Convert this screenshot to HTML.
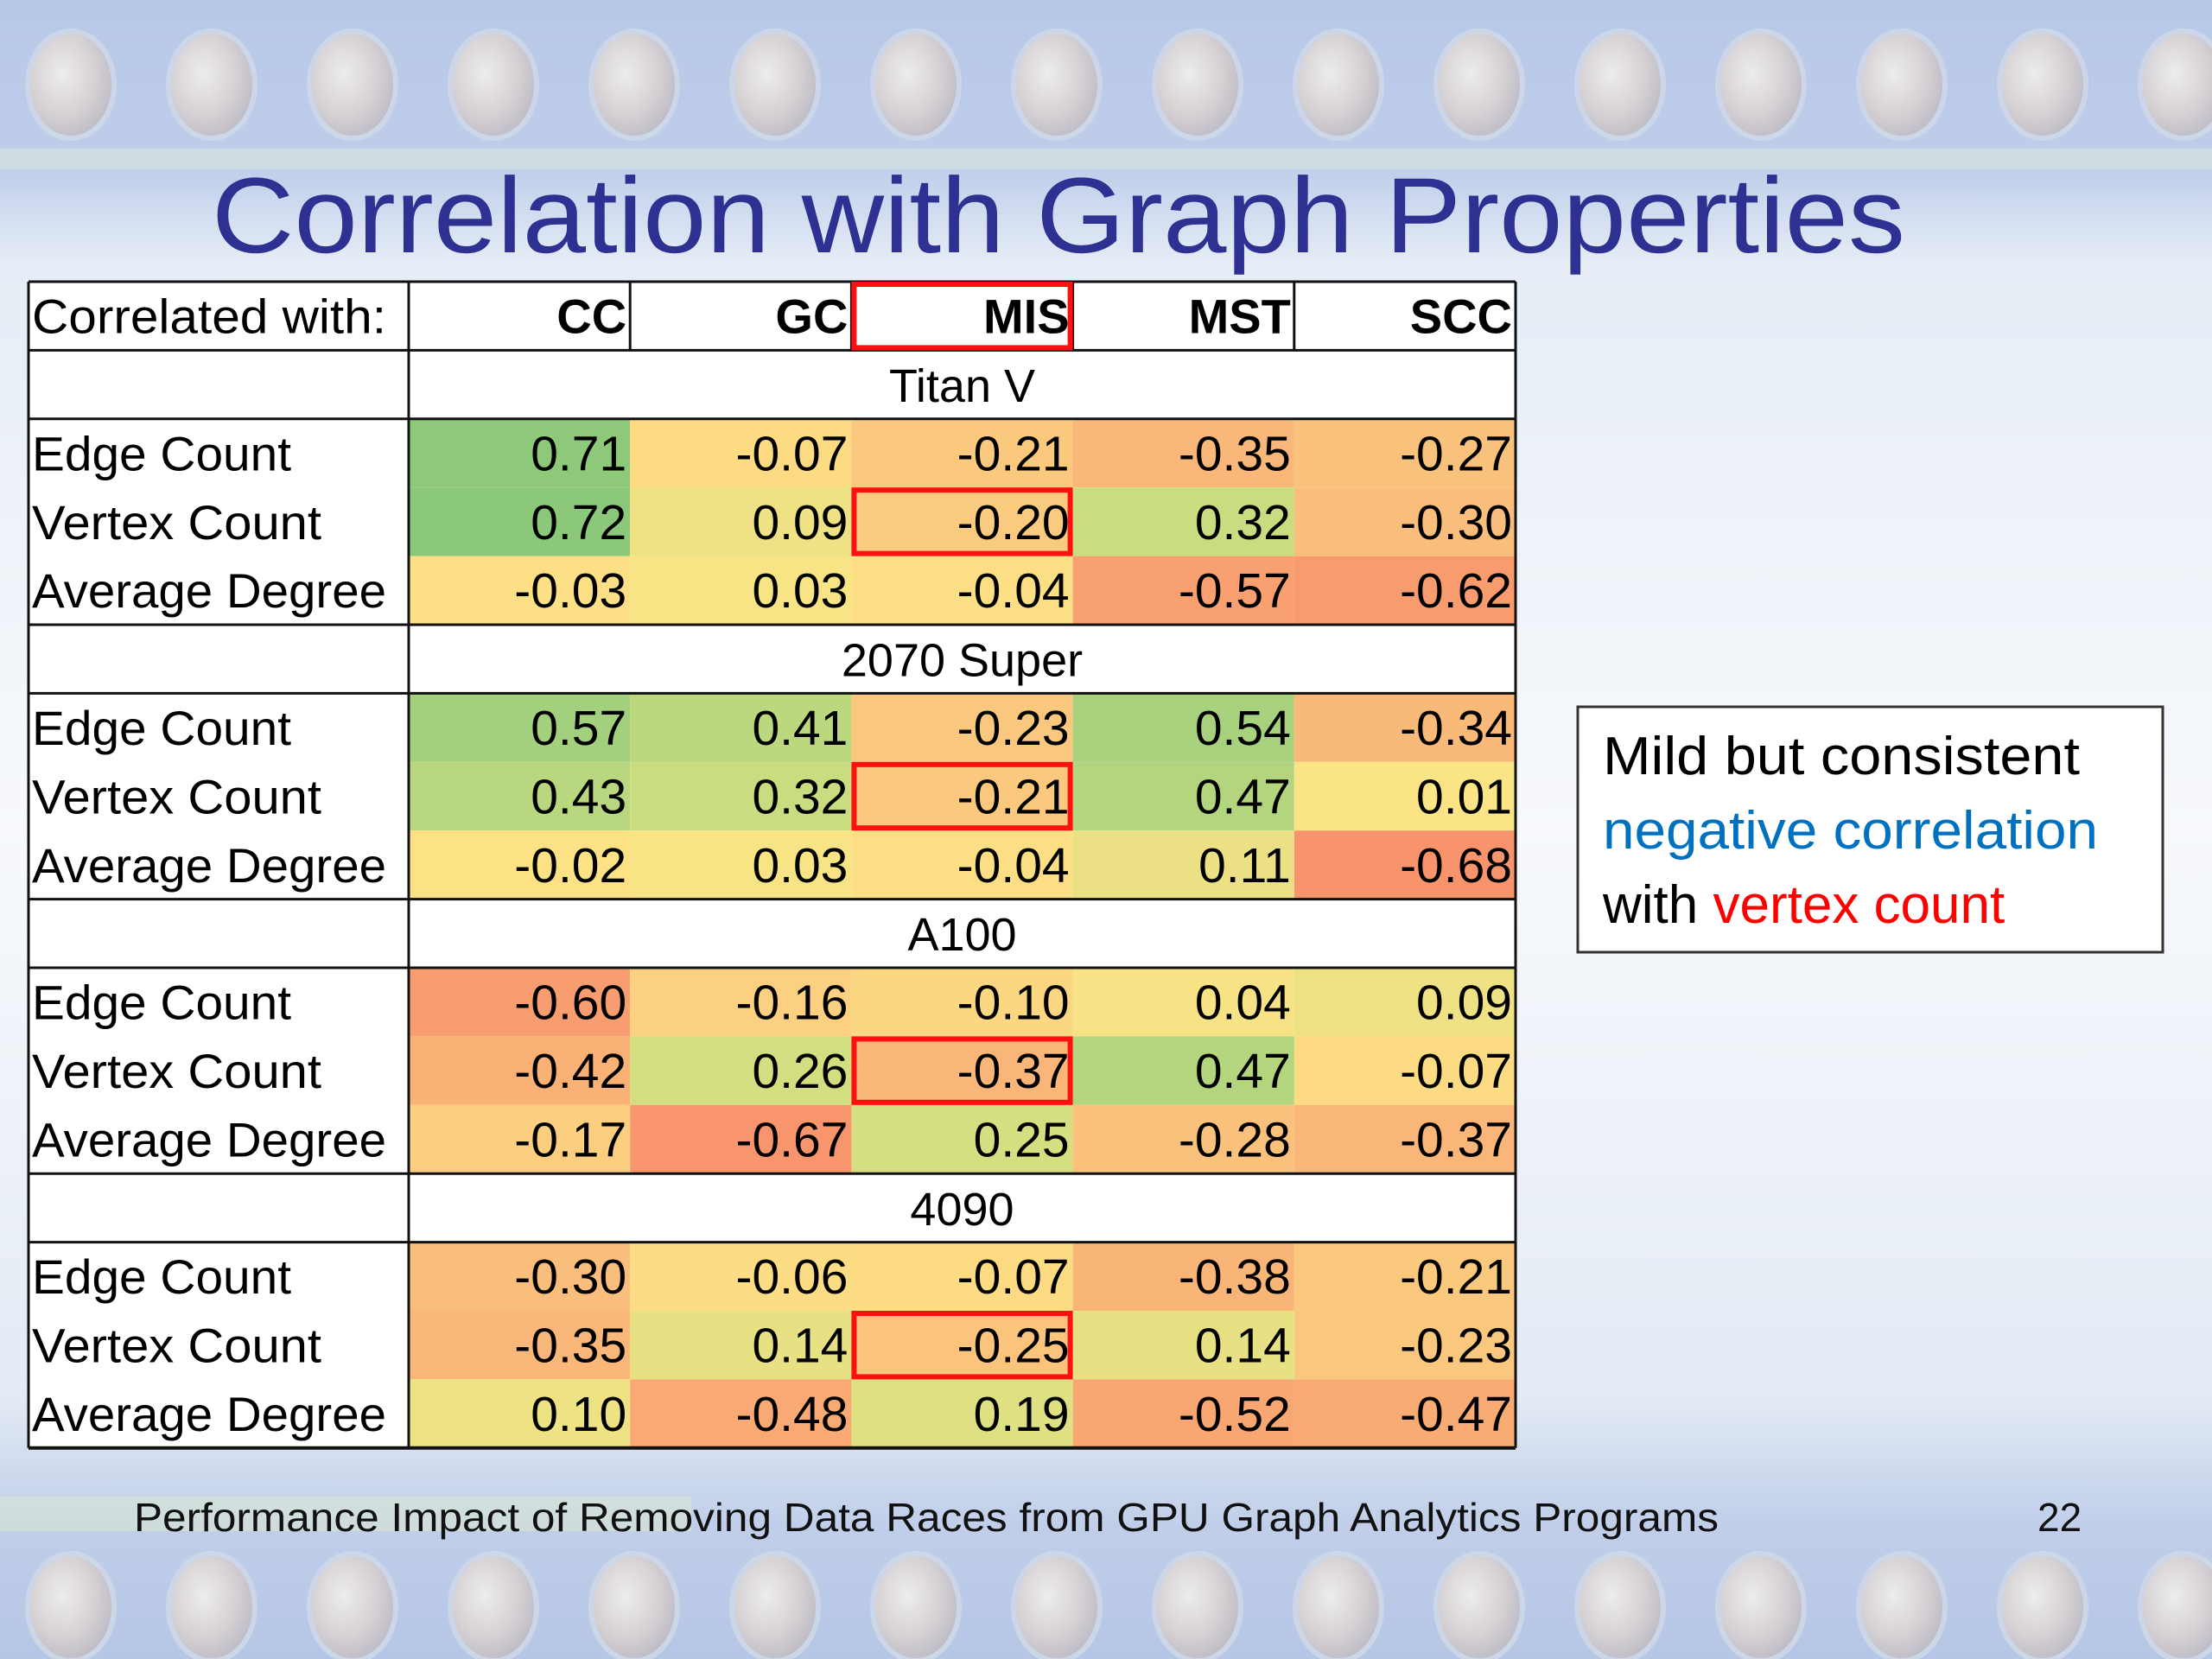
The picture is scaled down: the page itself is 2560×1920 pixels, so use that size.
<!DOCTYPE html>
<html><head><meta charset="utf-8"><style>
html,body{margin:0;padding:0;width:2560px;height:1920px;overflow:hidden;background:#eef3fa}
svg{display:block}
</style></head><body>
<svg id="s" width="2560" height="1920" viewBox="0 0 2560 1920" xmlns="http://www.w3.org/2000/svg">
<defs>
<linearGradient id="bg" x1="0" y1="0" x2="0" y2="1">
<stop offset="0" stop-color="#b8c8e8"/><stop offset="0.1" stop-color="#bfcdea"/><stop offset="0.16" stop-color="#e6edf6"/><stop offset="0.5" stop-color="#f7f9fc"/><stop offset="0.84" stop-color="#e4ebf5"/><stop offset="0.92" stop-color="#c0cee9"/><stop offset="1" stop-color="#b6c6e6"/>
</linearGradient>
<radialGradient id="pad" cx="0.4" cy="0.4" r="0.6">
<stop offset="0" stop-color="#f6f2f0"/><stop offset="0.6" stop-color="#ddd5d2"/><stop offset="1" stop-color="#c2bcc2"/>
</radialGradient>
</defs>
<rect width="2560" height="1920" fill="url(#bg)"/>
<rect x="0" y="172" width="2560" height="24" fill="#dfecd9" opacity="0.5"/>
<rect x="0" y="1732" width="800" height="40" fill="#dcebd0" opacity="0.5"/>
<g id="pads" opacity="0.85"></g>
<text x="245" y="292" font-family="Liberation Sans, sans-serif" font-size="124" fill="#2e3192" textLength="1960" lengthAdjust="spacingAndGlyphs">Correlation with Graph Properties</text>
<g id="tbl"></g>
<g>
<rect x="1826" y="818" width="677" height="284" fill="#fff" stroke="#333" stroke-width="3"/>
<text x="1855" y="896" font-family="Liberation Sans, sans-serif" font-size="62" fill="#000" textLength="552" lengthAdjust="spacingAndGlyphs">Mild but consistent</text>
<text x="1855" y="982" font-family="Liberation Sans, sans-serif" font-size="62" fill="#0070c0" textLength="573" lengthAdjust="spacingAndGlyphs">negative correlation</text>
<text x="1855" y="1068" font-family="Liberation Sans, sans-serif" font-size="62" fill="#000"><tspan>with </tspan><tspan fill="#ff0000">vertex count</tspan></text>
</g>
<text x="155" y="1772" font-family="Liberation Sans, sans-serif" font-size="46" fill="#111" textLength="1834" lengthAdjust="spacingAndGlyphs">Performance Impact of Removing Data Races from GPU Graph Analytics Programs</text>
<text x="2358" y="1772" font-family="Liberation Sans, sans-serif" font-size="46" fill="#111">22</text>
</svg>
<script>
const columns = ["CC","GC","MIS","MST","SCC"];
const gpus = ["Titan V","2070 Super","A100","4090"];
const properties = ["Edge Count","Vertex Count","Average Degree"];
const titanV = [[0.71,-0.07,-0.21,-0.35,-0.27],[0.72,0.09,-0.20,0.32,-0.30],[-0.03,0.03,-0.04,-0.57,-0.62]];
const super2070 = [[0.57,0.41,-0.23,0.54,-0.34],[0.43,0.32,-0.21,0.47,0.01],[-0.02,0.03,-0.04,0.11,-0.68]];
const a100 = [[-0.60,-0.16,-0.10,0.04,0.09],[-0.42,0.26,-0.37,0.47,-0.07],[-0.17,-0.67,0.25,-0.28,-0.37]];
const rtx4090 = [[-0.30,-0.06,-0.07,-0.38,-0.21],[-0.35,0.14,-0.25,0.14,-0.23],[0.10,-0.48,0.19,-0.52,-0.47]];
const blocks = [titanV, super2070, a100, rtx4090];

const NS="http://www.w3.org/2000/svg";
function mk(tag, attrs, parent){const e=document.createElementNS(NS,tag);for(const k in attrs)e.setAttribute(k,attrs[k]);parent.appendChild(e);return e;}

const pads=document.getElementById('pads');
for(let i=0;i<16;i++){
  const cx=82+i*163;
  [98,1860].forEach(cy=>{
    const c=mk('ellipse',{cx:cx,cy:cy,rx:50,ry:62,fill:'url(#pad)',stroke:'#cfd9e8','stroke-width':6},pads);
    
    
  });
}

const X0=33, LABW=440, COLW=256.2, Y0=326, RH=79.4;
const xCol=i=>X0+LABW+i*COLW;
const yRow=r=>Y0+r*RH;
const F='Liberation Sans, sans-serif';
const BY=0.75;

function lerp(a,b,t){return a.map((v,i)=>Math.round(v+(b[i]-v)*t));}
function colorFor(v){
  const red=[248,148,108], org=[249,190,123], yel=[253,228,134], lg=[205,221,128], grn=[140,200,122];
  let c;
  if(v<=-0.3) c=lerp(red,org,Math.min(1,Math.max(0,(v+0.68)/0.38)));
  else if(v<=0) c=lerp(org,yel,(v+0.3)/0.3);
  else if(v<=0.3) c=lerp(yel,lg,v/0.3);
  else c=lerp(lg,grn,Math.min(1,(v-0.3)/0.42));
  return 'rgb('+c.join(',')+')';
}
const tbl=document.getElementById('tbl');
const totalRows=1+gpus.length*4;
mk('rect',{x:X0,y:Y0,width:LABW+5*COLW,height:totalRows*RH,fill:'#fff'},tbl);

let t=mk('text',{x:X0+4,y:yRow(0)+RH*BY,'font-family':F,'font-size':56,fill:'#000',textLength:410,lengthAdjust:'spacingAndGlyphs'},tbl);
t.textContent='Correlated with:';


columns.forEach((c,i)=>{
  const h=mk('text',{x:xCol(i+1)-4,y:yRow(0)+RH*BY,'font-family':F,'font-size':56,'font-weight':'bold','text-anchor':'end',fill:'#000'},tbl);
  h.textContent=c;
  
  
});

blocks.forEach((blk,b)=>{
  const r0=1+b*4;
  const g=mk('text',{x:xCol(2.5),y:yRow(r0)+RH*BY,'font-family':F,'font-size':54,'text-anchor':'middle',fill:'#000'},tbl);
  g.textContent=gpus[b];
  
  
  blk.forEach((row,p)=>{
    const r=r0+1+p;
    const l=mk('text',{x:X0+4,y:yRow(r)+RH*BY,'font-family':F,'font-size':56,fill:'#000',textLength:[300,335,410][p],lengthAdjust:'spacingAndGlyphs'},tbl);
    l.textContent=properties[p];
    
    
    row.forEach((v,i)=>{
      const cell=mk('rect',{x:xCol(i),y:yRow(r),width:COLW,height:RH,fill:colorFor(v)},tbl);
      
      
      const tv=mk('text',{x:xCol(i+1)-4,y:yRow(r)+RH*BY,'font-family':F,'font-size':57,'text-anchor':'end',fill:'#000'},tbl);
      tv.textContent=v.toFixed(2);
      
      
    });
  });
});

const W=LABW+5*COLW;
function line(x1,y1,x2,y2,w){mk('line',{x1:x1,y1:y1,x2:x2,y2:y2,stroke:'#111','stroke-width':w||3},tbl);}
line(X0,Y0,X0+W,Y0);line(X0,yRow(totalRows),X0+W,yRow(totalRows),4);
line(X0,Y0,X0,yRow(totalRows));line(X0+W,Y0,X0+W,yRow(totalRows));
line(xCol(0),Y0,xCol(0),yRow(totalRows));
for(let i=1;i<5;i++) line(xCol(i),Y0,xCol(i),yRow(1));
for(let b=0;b<gpus.length;b++){line(X0,yRow(1+b*4),X0+W,yRow(1+b*4));line(X0,yRow(2+b*4),X0+W,yRow(2+b*4));}

const mis=columns.indexOf('MIS');
function red(r){const e=mk('rect',{x:xCol(mis)+3,y:yRow(r)+3,width:COLW-6,height:RH-6,fill:'none',stroke:'#ff1010','stroke-width':6},tbl);
  
  }
red(0);
for(let b=0;b<gpus.length;b++) red(1+b*4+2);
</script>
</body></html>
